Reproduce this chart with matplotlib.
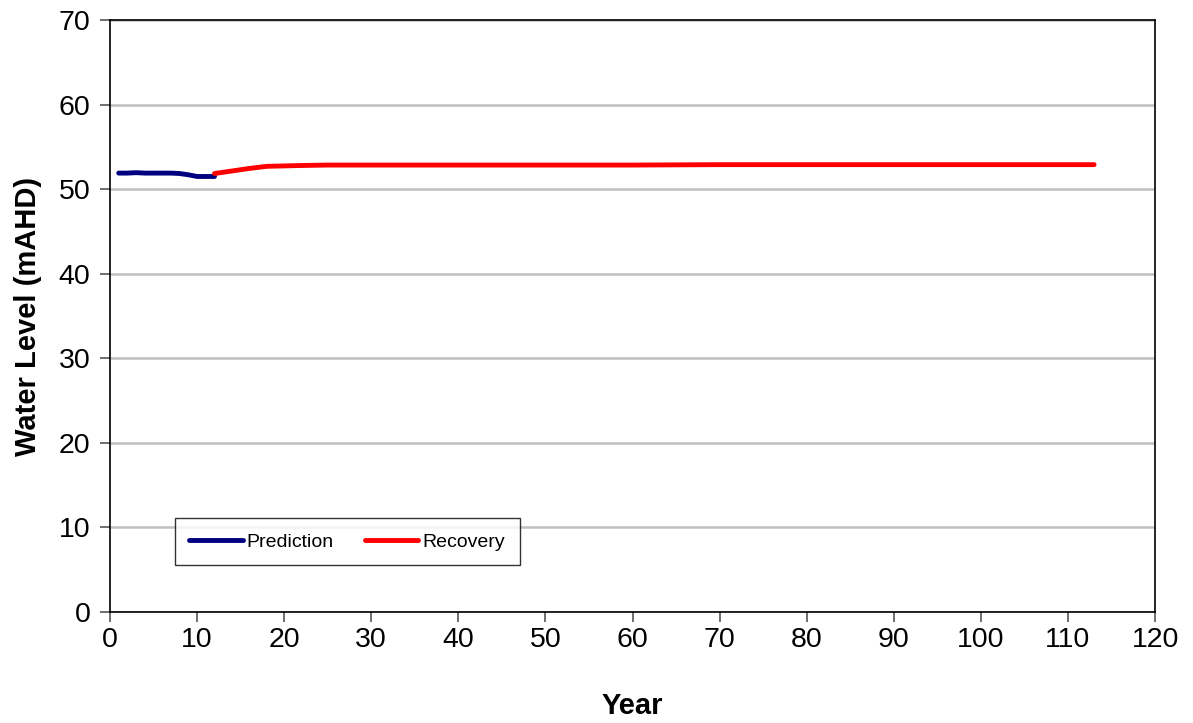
import matplotlib.pyplot as plt

# Prediction period (years 1-12)
pred_year = [1, 2, 3, 4, 5, 6, 7, 8, 9, 10, 11, 12]
pred_level = [51.9, 51.9, 51.95, 51.9, 51.9, 51.9, 51.9, 51.85, 51.7, 51.5, 51.5, 51.5]

# Recovery period (years 12-113)
rec_year = [12, 14, 16, 18, 20, 22, 25, 30, 40, 50, 60, 70, 80, 90, 100, 113]
rec_level = [51.85, 52.15, 52.45, 52.7, 52.75, 52.8, 52.85, 52.85, 52.85, 52.85, 52.85, 52.9, 52.9, 52.9, 52.9, 52.9]

x_ticks = list(range(0, 121, 10))
y_ticks = list(range(0, 71, 10))

plt.rcParams['font.family'] = ['Liberation Sans', 'DejaVu Sans']

fig = plt.figure(figsize=(11.93, 7.23), dpi=100)
ax = fig.add_axes([0.0922, 0.1535, 0.876, 0.8188])

ax.plot(pred_year, pred_level, color='#000080', lw=3.5, solid_capstyle='round', label='Prediction')
ax.plot(rec_year, rec_level, color='#FF0000', lw=3.5, solid_capstyle='round', label='Recovery')

ax.set_xlim(0, 120)
ax.set_ylim(0, 70)
ax.set_xticks(x_ticks)
ax.set_yticks(y_ticks)
ax.tick_params(labelsize=20.5, direction='out', length=7, width=1.2, color='#555555')
ax.tick_params(axis='x', pad=4)
ax.tick_params(axis='y', pad=7)
ax.yaxis.grid(True, color='#C0C0C0', lw=1.8)
ax.set_axisbelow(True)
for s in ax.spines.values():
    s.set_color('black')
    s.set_linewidth(1.2)

ax.set_xlabel('Year', fontsize=21, fontweight='bold', labelpad=28)
ax.set_ylabel('Water Level (mAHD)', fontsize=21, fontweight='bold', labelpad=12)

leg = ax.legend(loc='lower left', bbox_to_anchor=(0.062, 0.079), ncol=2, fontsize=14,
                frameon=True, fancybox=False, edgecolor='black', borderpad=0.75,
                handlelength=2.75, handletextpad=0.2, borderaxespad=0, columnspacing=1.6)
leg.get_frame().set_linewidth(1.0)

fig.savefig('out.png', dpi=100)
